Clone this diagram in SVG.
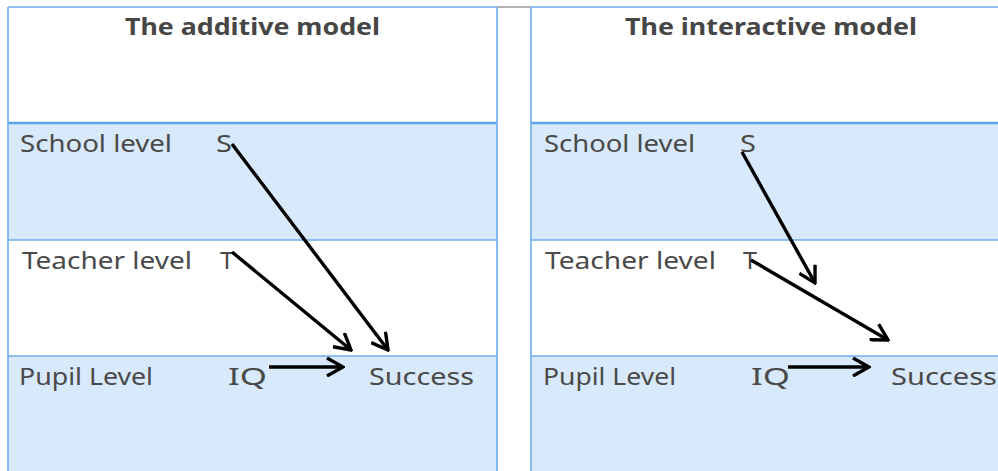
<svg xmlns="http://www.w3.org/2000/svg" width="998" height="471" viewBox="0 0 998 471">
<defs>
<style>
.bg{fill:#ffffff}
.band{fill:#D7E9FA}
.grid{stroke:#6CABEE;stroke-width:1.6;fill:none}
.thick{stroke:#5DA2EC;stroke-width:2.6;fill:none}
.title{font-family:"Noto Sans",sans-serif;font-weight:bold;font-size:23px;fill:#464646}
.lbl{font-family:"Noto Sans",sans-serif;font-size:23px;fill:#4a4a4a}
.arrow{stroke:#000;stroke-width:3.4;fill:none;marker-end:url(#ah)}
</style>
<marker id="ah" viewBox="0 0 20 20" refX="18" refY="10" markerWidth="20" markerHeight="20" markerUnits="userSpaceOnUse" orient="auto">
<path d="M2,1 L18,10 L2,19" fill="none" stroke="#000" stroke-width="3.4" stroke-linejoin="miter"/>
</marker>
</defs>
<rect class="bg" x="0" y="0" width="998" height="471"/>
<g id="table-left">
<rect class="band" x="8" y="123" width="489" height="117"/>
<rect class="band" x="8" y="356" width="489" height="115"/>
<line class="grid" x1="8" y1="7" x2="497" y2="7"/>
<line class="grid" x1="8" y1="240" x2="497" y2="240"/>
<line class="grid" x1="8" y1="356" x2="497" y2="356"/>
<line class="thick" x1="8" y1="123" x2="497" y2="123"/>
<line class="grid" x1="8" y1="7" x2="8" y2="471"/>
<line class="grid" x1="497" y1="7" x2="497" y2="471"/>
</g>
<g id="gap-column">
<line x1="497" y1="7" x2="531" y2="7" stroke="#9a9a9a" stroke-width="1.6"/>
</g>
<g id="table-right">
<rect class="band" x="531" y="123" width="470" height="117"/>
<rect class="band" x="531" y="356" width="470" height="115"/>
<line class="grid" x1="531" y1="7" x2="1000" y2="7"/>
<line class="grid" x1="531" y1="240" x2="1000" y2="240"/>
<line class="grid" x1="531" y1="356" x2="1000" y2="356"/>
<line class="thick" x1="531" y1="123" x2="1000" y2="123"/>
<line class="grid" x1="531" y1="7" x2="531" y2="471"/>
</g>
<g id="title-additive"><text class="title" x="125" y="35" textLength="255" lengthAdjust="spacingAndGlyphs">The additive model</text></g>
<g id="title-interactive"><text class="title" x="625" y="35" textLength="292" lengthAdjust="spacingAndGlyphs">The interactive model</text></g>
<g id="left-school-level"><text class="lbl" x="20" y="152" textLength="152" lengthAdjust="spacingAndGlyphs">School level</text></g>
<g id="left-S"><text class="lbl" x="216" y="152" textLength="16" lengthAdjust="spacingAndGlyphs">S</text></g>
<g id="left-teacher-level"><text class="lbl" x="22" y="269" textLength="170" lengthAdjust="spacingAndGlyphs">Teacher level</text></g>
<g id="left-T"><text class="lbl" x="220" y="269" textLength="14" lengthAdjust="spacingAndGlyphs">T</text></g>
<g id="left-pupil-level"><text class="lbl" x="19" y="385" textLength="134" lengthAdjust="spacingAndGlyphs">Pupil Level</text></g>
<g id="left-IQ"><text class="lbl" x="228" y="385" textLength="39" lengthAdjust="spacingAndGlyphs">IQ</text></g>
<g id="left-success"><text class="lbl" x="369" y="385" textLength="105" lengthAdjust="spacingAndGlyphs">Success</text></g>
<g id="right-school-level"><text class="lbl" x="544" y="152" textLength="151" lengthAdjust="spacingAndGlyphs">School level</text></g>
<g id="right-S"><text class="lbl" x="740" y="152" textLength="16" lengthAdjust="spacingAndGlyphs">S</text></g>
<g id="right-teacher-level"><text class="lbl" x="545" y="269" textLength="171" lengthAdjust="spacingAndGlyphs">Teacher level</text></g>
<g id="right-T"><text class="lbl" x="743" y="269" textLength="14" lengthAdjust="spacingAndGlyphs">T</text></g>
<g id="right-pupil-level"><text class="lbl" x="543" y="385" textLength="133" lengthAdjust="spacingAndGlyphs">Pupil Level</text></g>
<g id="right-IQ"><text class="lbl" x="751" y="385" textLength="39" lengthAdjust="spacingAndGlyphs">IQ</text></g>
<g id="right-success"><text class="lbl" x="891" y="385" textLength="106" lengthAdjust="spacingAndGlyphs">Success</text></g>
<g id="connectors">
<line class="arrow" x1="232" y1="144" x2="388" y2="350"/>
<line class="arrow" x1="232" y1="252" x2="351" y2="350"/>
<line class="arrow" x1="269" y1="367" x2="343" y2="367"/>
<line class="arrow" x1="742" y1="152" x2="815" y2="283"/>
<line class="arrow" x1="751" y1="260" x2="888" y2="340"/>
<line class="arrow" x1="788" y1="367" x2="869" y2="367"/>
</g>
</svg>
